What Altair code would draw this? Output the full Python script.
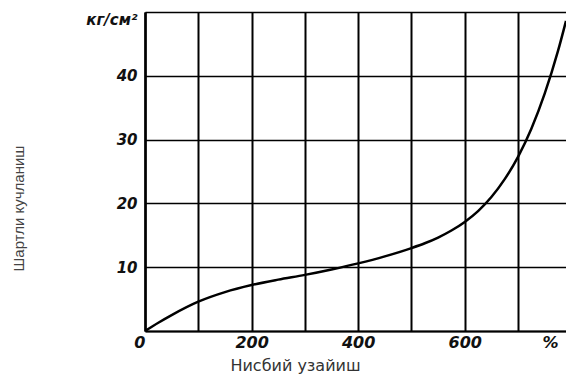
import altair as alt
import pandas as pd

# curve
strain = [0, 25, 50, 100, 150, 200, 250, 300, 350, 400, 450, 500, 525, 550, 575, 600, 625, 650, 675, 700, 725, 750, 775, 790]
stress = [0, 1.3, 2.5, 4.6, 6.1, 7.2, 8.05, 8.8, 9.65, 10.6, 11.7, 13.0, 13.75, 14.65, 15.75, 17.1, 18.8, 21.0, 23.8, 27.3, 31.7, 37.2, 43.9, 48.6]

x_grid = [0, 100, 200, 300, 400, 500, 600, 700]
x_unit_pos = 760
x_unit = "%"
y_grid = [0, 10, 20, 30, 40, 50]
y_unit = "кг/см²"

x_title = "Нисбий узайиш"
y_title = "Шартли кучланиш"

df = pd.DataFrame({"x": strain, "y": stress})

x_axis = alt.Axis(
    values=x_grid + [x_unit_pos],
    labelExpr=f"datum.value == {x_unit_pos} ? '{x_unit}' : (datum.value % 200 == 0 ? datum.label : '')",
    labelAlign={"condition": {"test": "datum.value == 0", "value": "right"}, "value": "center"},
    labelFont="DejaVu Sans", labelFontStyle="italic", labelFontWeight="bold",
    labelFontSize=16, labelColor="#111", labelPadding=3,
    grid=True, gridColor="black", gridWidth=2,
    gridOpacity={"condition": {"test": f"datum.value == {x_unit_pos}", "value": 0}, "value": 1},
    ticks=False, domainColor="black", domainWidth=2,
    title=x_title, titleFont="DejaVu Sans", titleFontSize=16, titleFontWeight="normal",
    titleColor="#333", titleX=150, titleY=34, titleBaseline="middle", titleAlign="center",
)

y_axis = alt.Axis(
    values=y_grid,
    labelExpr=f"datum.value == 50 ? '{y_unit}' : (datum.value == 0 ? '' : datum.label)",
    labelBaseline={"condition": {"test": "datum.value == 50", "value": "top"}, "value": "middle"},
    labelFont="DejaVu Sans", labelFontStyle="italic", labelFontWeight="bold",
    labelFontSize=15, labelColor="#111", labelPadding=8,
    grid=True, gridColor="black", gridWidth=1.5,
    ticks=False, domainColor="black", domainWidth=2.5,
    title=y_title, titleFont="Liberation Sans", titleFontSize=15, titleFontWeight="normal",
    titleColor="#444", titleAngle=270, titleX=-127, titleY=196, titleBaseline="middle", titleAlign="center",
)

chart = alt.Chart(df).mark_line(
    color="black", strokeWidth=2.5, interpolate="monotone", clip=True
).encode(
    x=alt.X("x:Q", scale=alt.Scale(domain=[0, 790], nice=False, zero=False), axis=x_axis),
    y=alt.Y("y:Q", scale=alt.Scale(domain=[0, 50], nice=False), axis=y_axis),
).properties(
    width=421, height=319,
    padding={"left": 145, "top": 12, "right": 0, "bottom": 45},
    autosize=alt.AutoSizeParams(type="none"),
).configure_view(stroke=None).configure(background="white")

chart.save("out.html", embed_options={"renderer": "svg", "actions": False})
